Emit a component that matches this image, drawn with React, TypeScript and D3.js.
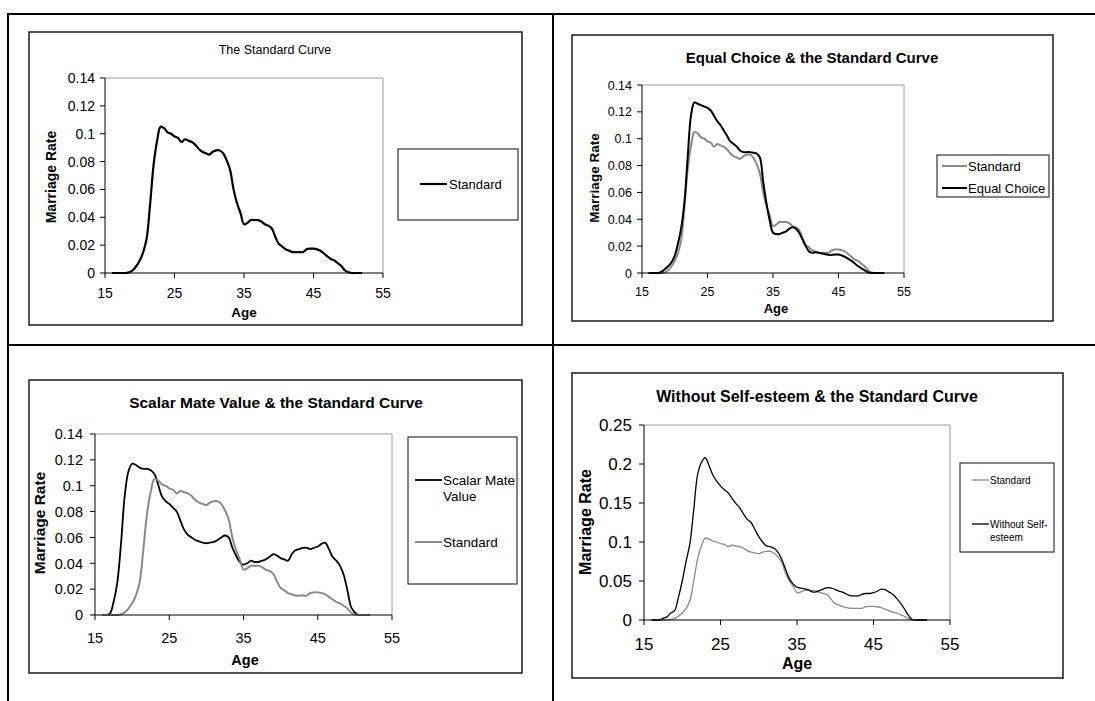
import React from 'react';
import * as d3 from 'd3';

// ---------- DATA ----------
const ages = [
  16, 16.5, 17, 17.5, 18, 18.5, 19, 19.5, 20, 20.5,
  21, 21.5, 22, 22.5, 23, 23.5, 24, 24.5, 25, 25.5,
  26, 26.5, 27, 27.5, 28, 28.5, 29, 29.5, 30, 30.5,
  31, 31.5, 32, 32.5, 33, 33.5, 34, 34.5, 35, 35.5,
  36, 36.5, 37, 37.5, 38, 38.5, 39, 39.5, 40, 40.5,
  41, 41.5, 42, 42.5, 43, 43.5, 44, 44.5, 45, 45.5,
  46, 46.5, 47, 47.5, 48, 48.5, 49, 49.5, 50, 50.5,
  51, 51.5, 52,
];

const standard = [
  0, 0, 0, 0, 0, 0.0005, 0.002, 0.005, 0.009, 0.015,
  0.025, 0.05, 0.078, 0.095, 0.105, 0.104, 0.101, 0.1, 0.098, 0.097,
  0.094, 0.096, 0.095, 0.094, 0.092, 0.089, 0.087, 0.086, 0.085, 0.087,
  0.088, 0.088, 0.086, 0.081, 0.074, 0.06, 0.05, 0.043, 0.035, 0.036,
  0.038, 0.038, 0.038, 0.037, 0.035, 0.034, 0.032, 0.026, 0.021, 0.019,
  0.017, 0.016, 0.015, 0.015, 0.015, 0.015, 0.017, 0.0175, 0.0175, 0.017,
  0.016, 0.014, 0.012, 0.01, 0.009, 0.007, 0.005, 0.002, 0.0005, 0,
  0, 0, 0,
];

const equalChoice = [
  0, 0, 0, 0, 0.001, 0.003, 0.005, 0.008, 0.013, 0.022,
  0.034, 0.054, 0.088, 0.118, 0.127, 0.126, 0.125, 0.124, 0.123, 0.121,
  0.117, 0.113, 0.11, 0.106, 0.102, 0.098, 0.096, 0.094, 0.091, 0.09,
  0.09, 0.09, 0.0895, 0.089, 0.086, 0.068, 0.052, 0.039, 0.03, 0.029,
  0.029, 0.03, 0.031, 0.033, 0.034, 0.033, 0.03, 0.025, 0.02, 0.016,
  0.015, 0.0155, 0.015, 0.0145, 0.014, 0.0135, 0.0135, 0.0137, 0.0137, 0.013,
  0.012, 0.0105, 0.009, 0.007, 0.005, 0.0035, 0.002, 0.0005, 0, 0,
  0, 0, 0,
];

const scalarMateValue = [
  0, 0, 0.001, 0.01, 0.025, 0.055, 0.092, 0.111, 0.117, 0.116,
  0.114, 0.113, 0.113, 0.112, 0.109, 0.101, 0.092, 0.088, 0.086, 0.083,
  0.08, 0.073, 0.066, 0.062, 0.06, 0.058, 0.057, 0.056, 0.0555, 0.056,
  0.0565, 0.058, 0.06, 0.0615, 0.06, 0.052, 0.046, 0.041, 0.039, 0.04,
  0.042, 0.041, 0.041, 0.042, 0.043, 0.045, 0.047, 0.046, 0.044, 0.043,
  0.042, 0.047, 0.05, 0.051, 0.052, 0.052, 0.051, 0.052, 0.053, 0.055,
  0.056, 0.051, 0.045, 0.042, 0.038, 0.031, 0.019, 0.006, 0.002, 0,
  0, 0, 0,
];

const withoutSelfEsteem = [
  0, 0, 0, 0.002, 0.004, 0.009, 0.012, 0.029, 0.05, 0.075,
  0.098, 0.141, 0.186, 0.202, 0.208, 0.198, 0.186, 0.178, 0.172, 0.167,
  0.163, 0.156, 0.1496, 0.144, 0.136, 0.129, 0.125, 0.116, 0.107, 0.1,
  0.095, 0.094, 0.092, 0.087, 0.078, 0.065, 0.053, 0.046, 0.042, 0.041,
  0.04, 0.0385, 0.036, 0.036, 0.038, 0.04, 0.0415, 0.041, 0.039, 0.037,
  0.0355, 0.033, 0.031, 0.031, 0.031, 0.033, 0.034, 0.034, 0.035, 0.037,
  0.0395, 0.039, 0.036, 0.033, 0.028, 0.022, 0.015, 0.007, 0.001, 0,
  0, 0, 0,
];

const xTicks = [15, 25, 35, 45, 55];
const yTicksA = [0, 0.02, 0.04, 0.06, 0.08, 0.1, 0.12, 0.14];
const yTicksB = [0, 0.05, 0.1, 0.15, 0.2, 0.25];

// ---------- STYLE / LAYOUT ----------
const FONT = '"Liberation Sans", Arial, Helvetica, sans-serif';
const BLACK = '#000';
const GRAY = '#8a8a8a';

type SeriesCfg = { values: number[]; color: string; width: number };
type LegendItem = { s: number; lineY: number; lines: string[]; textYs: number[] };
type PanelCfg = {
  title: string; titleBold: boolean; titleSize: number; titleX: number; titleY: number;
  frame: number[]; plot: number[];
  yMax: number; yTicks: number[];
  tickSize: number; xLabelY: number; yLabelGap: number;
  yTitle: { x: number; y: number; size: number };
  xTitle: { x: number; y: number; size: number };
  series: SeriesCfg[];
  drawOrder: number[];
  legend: { box: number[]; lineX: number[]; textX: number; size: number; items: LegendItem[] };
};

const panels: PanelCfg[] = [
  {
    title: 'The Standard Curve', titleBold: false, titleSize: 12.5, titleX: 275, titleY: 54,
    frame: [29, 32, 522, 325], plot: [105, 78, 383, 273],
    yMax: 0.14, yTicks: yTicksA, tickSize: 14, xLabelY: 298, yLabelGap: 10,
    yTitle: { x: 51, y: 177, size: 14 }, xTitle: { x: 244, y: 317, size: 13.5 },
    series: [{ values: standard, color: BLACK, width: 2.2 }],
    drawOrder: [0],
    legend: {
      box: [398, 149, 518, 220], lineX: [420, 447], textX: 449, size: 13,
      items: [{ s: 0, lineY: 184, lines: ['Standard'], textYs: [184] }],
    },
  },
  {
    title: 'Equal Choice & the Standard Curve', titleBold: true, titleSize: 15, titleX: 812, titleY: 63,
    frame: [572, 35, 1053, 321], plot: [642, 85, 904, 273],
    yMax: 0.14, yTicks: yTicksA, tickSize: 12.5, xLabelY: 296, yLabelGap: 10,
    yTitle: { x: 594, y: 178, size: 13.5 }, xTitle: { x: 776, y: 313, size: 13 },
    series: [
      { values: standard, color: GRAY, width: 2 },
      { values: equalChoice, color: BLACK, width: 2 },
    ],
    drawOrder: [0, 1],
    legend: {
      box: [937, 155, 1049, 197], lineX: [942, 967], textX: 968, size: 13,
      items: [
        { s: 0, lineY: 166, lines: ['Standard'], textYs: [166] },
        { s: 1, lineY: 188, lines: ['Equal Choice'], textYs: [188] },
      ],
    },
  },
  {
    title: 'Scalar Mate Value & the Standard Curve', titleBold: true, titleSize: 15.5, titleX: 276, titleY: 408,
    frame: [29, 380, 522, 673], plot: [95, 434, 392, 615],
    yMax: 0.14, yTicks: yTicksA, tickSize: 14.5, xLabelY: 643, yLabelGap: 12,
    yTitle: { x: 39, y: 523, size: 15.5 }, xTitle: { x: 245, y: 665, size: 14.5 },
    series: [
      { values: scalarMateValue, color: BLACK, width: 1.8 },
      { values: standard, color: GRAY, width: 2 },
    ],
    drawOrder: [0, 1],
    legend: {
      box: [408, 437, 517, 584], lineX: [415, 442], textX: 443, size: 13.5,
      items: [
        { s: 0, lineY: 480, lines: ['Scalar Mate', 'Value'], textYs: [480, 496] },
        { s: 1, lineY: 542, lines: ['Standard'], textYs: [542] },
      ],
    },
  },
  {
    title: 'Without Self-esteem & the Standard Curve', titleBold: true, titleSize: 16, titleX: 817, titleY: 402,
    frame: [572, 373, 1063, 678], plot: [644, 425, 950, 620],
    yMax: 0.25, yTicks: yTicksB, tickSize: 17, xLabelY: 650, yLabelGap: 12,
    yTitle: { x: 585, y: 522, size: 16 }, xTitle: { x: 797, y: 669, size: 16 },
    series: [
      { values: standard, color: GRAY, width: 1.3 },
      { values: withoutSelfEsteem, color: BLACK, width: 1.3 },
    ],
    drawOrder: [0, 1],
    legend: {
      box: [960, 463, 1054, 552], lineX: [972, 989], textX: 990, size: 10,
      items: [
        { s: 0, lineY: 480, lines: ['Standard'], textYs: [480] },
        { s: 1, lineY: 524, lines: ['Without Self-', 'esteem'], textYs: [524, 537] },
      ],
    },
  },
];

function Panel({ cfg }: { cfg: PanelCfg }) {
  const [px0, py0, px1, py1] = cfg.plot;
  const x = d3.scaleLinear().domain([15, 55]).range([px0, px1]);
  const y = d3.scaleLinear().domain([0, cfg.yMax]).range([py1, py0]);
  const line = d3
    .line<number>()
    .x((_, i) => x(ages[i]))
    .y((d) => y(d))
    .curve(d3.curveCatmullRom.alpha(0.5));
  const [fx0, fy0, fx1, fy1] = cfg.frame;
  const [lx0, ly0, lx1, ly1] = cfg.legend.box;
  return (
    <g fontFamily={FONT}>
      <rect x={fx0} y={fy0} width={fx1 - fx0} height={fy1 - fy0} fill="#fff" stroke="#1a1a1a" strokeWidth={1.5} />
      <text x={cfg.titleX} y={cfg.titleY} textAnchor="middle" fontSize={cfg.titleSize}
        fontWeight={cfg.titleBold ? 'bold' : 'normal'} fill="#000">{cfg.title}</text>
      {/* plot area border */}
      <line x1={px0} y1={py0} x2={px1} y2={py0} stroke="#9a9a9a" strokeWidth={1} />
      <line x1={px1} y1={py0} x2={px1} y2={py1} stroke="#9a9a9a" strokeWidth={1} />
      {/* series */}
      {cfg.drawOrder.map((si) => (
        <path key={si} d={line(cfg.series[si].values) || ''} fill="none"
          stroke={cfg.series[si].color} strokeWidth={cfg.series[si].width} strokeLinejoin="round" />
      ))}
      {/* axes */}
      <line x1={px0} y1={py0} x2={px0} y2={py1} stroke="#000" strokeWidth={1} />
      <line x1={px0} y1={py1} x2={px1} y2={py1} stroke="#000" strokeWidth={1} />
      {cfg.yTicks.map((t) => (
        <g key={'y' + t}>
          <line x1={px0 - 5} x2={px0} y1={y(t)} y2={y(t)} stroke="#000" strokeWidth={1} />
          <text x={px0 - cfg.yLabelGap} y={y(t)} dy="0.36em" textAnchor="end" fontSize={cfg.tickSize} fill="#000">
            {String(t)}
          </text>
        </g>
      ))}
      {xTicks.map((t) => (
        <g key={'x' + t}>
          <line x1={x(t)} x2={x(t)} y1={py1} y2={py1 + 5} stroke="#000" strokeWidth={1} />
          <text x={x(t)} y={cfg.xLabelY} textAnchor="middle" fontSize={cfg.tickSize} fill="#000">{t}</text>
        </g>
      ))}
      <text transform={`translate(${cfg.yTitle.x},${cfg.yTitle.y}) rotate(-90)`} dy="0.36em"
        textAnchor="middle" fontSize={cfg.yTitle.size} fontWeight="bold" fill="#000">Marriage Rate</text>
      <text x={cfg.xTitle.x} y={cfg.xTitle.y} textAnchor="middle" fontSize={cfg.xTitle.size}
        fontWeight="bold" fill="#000">Age</text>
      {/* legend */}
      <rect x={lx0} y={ly0} width={lx1 - lx0} height={ly1 - ly0} fill="#fff" stroke="#333" strokeWidth={1.2} />
      {cfg.legend.items.map((it, k) => (
        <g key={'l' + k}>
          <line x1={cfg.legend.lineX[0]} x2={cfg.legend.lineX[1]} y1={it.lineY} y2={it.lineY}
            stroke={cfg.series[it.s].color} strokeWidth={cfg.series[it.s].width} />
          {it.lines.map((ln, j) => (
            <text key={j} x={cfg.legend.textX} y={it.textYs[j]} dy="0.36em" fontSize={cfg.legend.size} fill="#000">{ln}</text>
          ))}
        </g>
      ))}
    </g>
  );
}

export default function App() {
  return (
    <svg width={1095} height={701} style={{ position: 'absolute', left: 0, top: 0, background: '#fff' }}>
      <rect x={0} y={0} width={1095} height={701} fill="#fff" />
      {panels.map((p, i) => <Panel key={i} cfg={p} />)}
      {/* table borders */}
      <line x1={8} y1={14} x2={1095} y2={14} stroke="#000" strokeWidth={2} />
      <line x1={8} y1={13} x2={8} y2={701} stroke="#000" strokeWidth={2} />
      <line x1={553} y1={13} x2={553} y2={701} stroke="#000" strokeWidth={2} />
      <line x1={8} y1={345} x2={1095} y2={345} stroke="#000" strokeWidth={2} />
    </svg>
  );
}
